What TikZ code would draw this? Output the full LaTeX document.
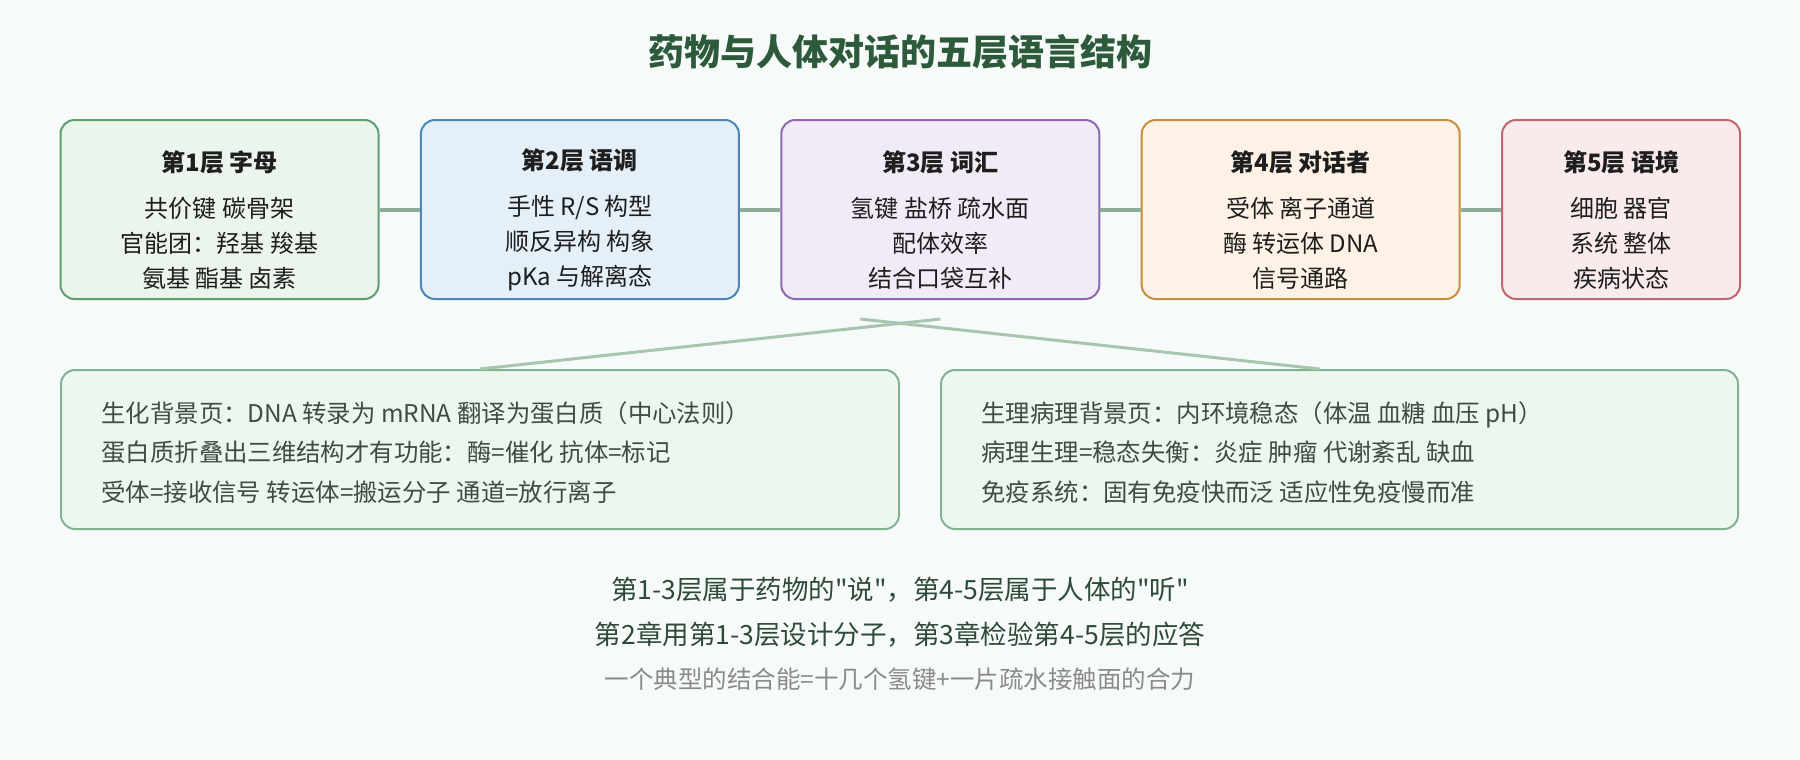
\documentclass[tikz,border=0pt]{standalone}
\usepackage{fontspec}
\setmainfont{Noto Sans CJK SC}
\usetikzlibrary{positioning}
\newcommand\qmark{\XeTeXglyph\XeTeXcharglyph"0022\relax}
\definecolor{PaperBg}{HTML}{F6FAF8}
\definecolor{TitleGreen}{HTML}{2E5A3C}
\definecolor{InkDark}{HTML}{1E1E1E}
\definecolor{InkNote}{HTML}{3F4B45}
\definecolor{InkSum}{HTML}{2F4A38}
\definecolor{InkGrey}{HTML}{8A8A8A}
\definecolor{L1Fill}{HTML}{EBF5EC}
\definecolor{L1Draw}{HTML}{5E9E72}
\definecolor{L2Fill}{HTML}{E4EFF8}
\definecolor{L2Draw}{HTML}{4D86B8}
\definecolor{L3Fill}{HTML}{F2EAF7}
\definecolor{L3Draw}{HTML}{8E68AE}
\definecolor{L4Fill}{HTML}{FDF2E5}
\definecolor{L4Draw}{HTML}{C98D3D}
\definecolor{L5Fill}{HTML}{F9EAEB}
\definecolor{L5Draw}{HTML}{BF6870}
\definecolor{BgFill}{HTML}{EEF7EF}
\definecolor{BgDraw}{HTML}{7FB392}
\definecolor{LinkCol}{HTML}{8EAA99}
\definecolor{BranchCol}{HTML}{A8C5B1}
\tikzset{
  layer/.style={
    draw=#1Draw,
    fill=#1Fill,
    line width=1pt,
    rounded corners=7pt,
    inner sep=0pt,
    minimum width=159pt,
    minimum height=89.5pt,
  },
  layer text/.style={
    text=InkDark,
    align=center,
    inner sep=0pt,
    font=\fontsize{12pt}{17.5pt}\selectfont,
  },
  background box/.style={
    draw=BgDraw,
    fill=BgFill,
    line width=1pt,
    rounded corners=7pt,
    inner sep=0pt,
    minimum height=79.5pt,
  },
  background text/.style={
    text=InkNote,
    align=left,
    anchor=west,
    inner sep=0pt,
    font=\fontsize{12.2pt}{19.75pt}\selectfont,
  },
  link/.style={
    draw=LinkCol,
    line width=2pt,
  },
  branch/.style={
    draw=BranchCol,
    line width=1.5pt,
  },
}

\begin{document}
\begin{tikzpicture}[x=0.5pt, y=-0.5pt, node distance=20.2pt]
  \fill[PaperBg] (0,0) rectangle (1800,760);

  \node[text=TitleGreen, font=\fontsize{18pt}{22pt}\selectfont\bfseries] (title) at (900,52)
    {药物与人体对话的五层语言结构};

  % the five layers
  \node[layer=L1] (l1) at (219.5,209.5) {};
  \node[layer=L2, right=of l1] (l2) {};
  \node[layer=L3, right=of l2] (l3) {};
  \node[layer=L4, right=of l3] (l4) {};
  \node[layer=L5, right=of l4, minimum width=119pt] (l5) {};
  \draw[link] (l1) -- (l2);
  \draw[link] (l2) -- (l3);
  \draw[link] (l3) -- (l4);
  \draw[link] (l4) -- (l5);

  \node[layer text] (l1t) at ([yshift=-5.25pt]l1.center)
    {\textbf{第1层 字母}\\[5.5pt]共价键 碳骨架\\官能团：羟基 羧基\\氨基 酯基 卤素};
  \node[layer text] (l2t) at ([yshift=-5.25pt]l2.center)
    {\textbf{第2层 语调}\\[5.5pt]手性 R/S 构型\\顺反异构 构象\\pKa 与解离态};
  \node[layer text] (l3t) at ([yshift=-5.25pt]l3.center)
    {\textbf{第3层 词汇}\\[5.5pt]氢键 盐桥 疏水面\\配体效率\\结合口袋互补};
  \node[layer text] (l4t) at ([yshift=-5.25pt]l4.center)
    {\textbf{第4层 对话者}\\[5.5pt]受体 离子通道\\酶 转运体 DNA\\信号通路};
  \node[layer text] (l5t) at ([yshift=-5.25pt]l5.center)
    {\textbf{第5层 语境}\\[5.5pt]细胞 器官\\系统 整体\\疾病状态};

  % background pages
  \node[background box, minimum width=419pt] (bg1) at (480,449.5) {};
  \node[background box, minimum width=398.5pt, right=20pt of bg1] (bg2) {};
  \node[background text] (bg1t) at ([xshift=20.5pt,yshift=-1.5pt]bg1.west)
    {生化背景页：DNA 转录为 mRNA 翻译为蛋白质（中心法则）\\
     蛋白质折叠出三维结构才有功能：酶=催化 抗体=标记\\
     受体=接收信号 转运体=搬运分子 通道=放行离子};
  \node[background text] (bg2t) at ([xshift=20.5pt,yshift=-1.5pt]bg2.west)
    {生理病理背景页：内环境稳态（体温 血糖 血压 pH）\\
     病理生理=稳态失衡：炎症 肿瘤 代谢紊乱 缺血\\
     免疫系统：固有免疫快而泛 适应性免疫慢而准};

  \coordinate (s1) at ([yshift=-9.5pt]l3.south);
  \coordinate (s2) at ([xshift=-40pt,yshift=-9.5pt]l3.south);
  \draw[branch] (s1) -- (bg1.north);
  \draw[branch] (s2) -- ([xshift=-10pt]bg2.north);

  % summary
  \node[text=InkSum, font=\fontsize{13.25pt}{16pt}\selectfont] (sum1) at (900,590)
    {第1-3层属于药物的\qmark 说\qmark ，第4-5层属于人体的\qmark 听\qmark};
  \node[text=InkSum, font=\fontsize{13.25pt}{16pt}\selectfont] (sum2) at (900,635)
    {第2章用第1-3层设计分子，第3章检验第4-5层的应答};
  \node[text=InkGrey, font=\fontsize{12.25pt}{15pt}\selectfont] (sum3) at (900,679)
    {一个典型的结合能=十几个氢键+一片疏水接触面的合力};
\end{tikzpicture}
\end{document}
